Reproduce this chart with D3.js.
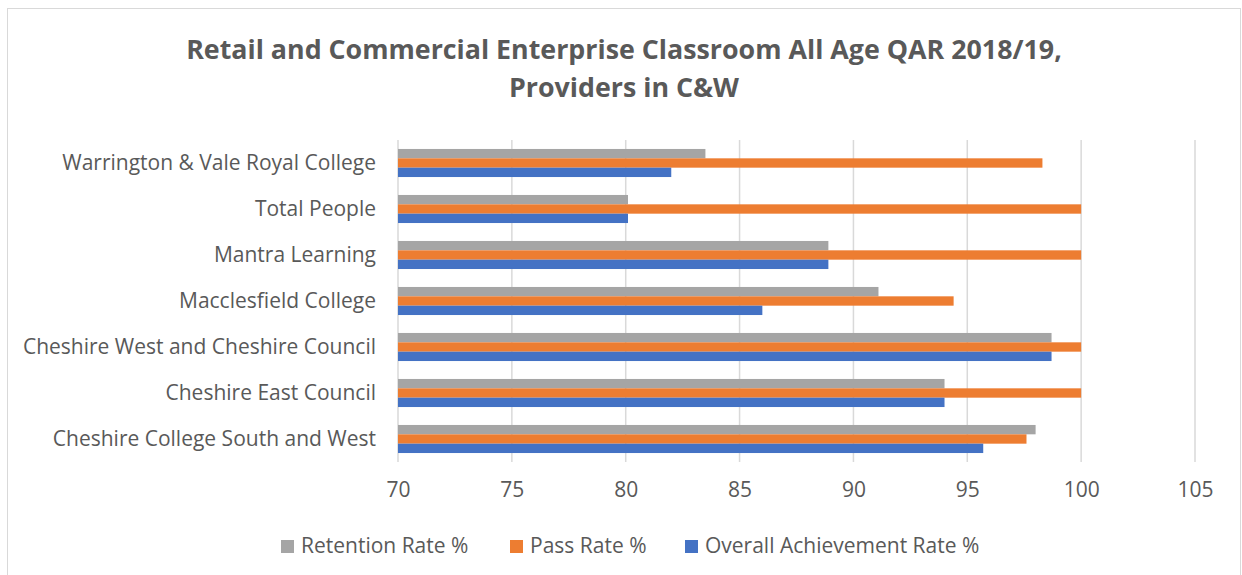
<!DOCTYPE html>
<html>
<head>
    <meta charset="UTF-8">
    <title>Retail and Commercial Enterprise Classroom QAR</title>
    <style>
        body { margin: 0; background: #fff; }
        text { font-family: "Open Sans", sans-serif; fill: #595959; }
        .grid line { stroke: #d9d9d9; stroke-width: 1.5; }
    </style>
</head>
<body>
<script src="https://cdn.jsdelivr.net/npm/d3@7"></script>
<script>
    // providers, bottom to top as in the workbook
    var providers = ["Cheshire College South and West", "Cheshire East Council",
        "Cheshire West and Cheshire Council", "Macclesfield College", "Mantra Learning",
        "Total People", "Warrington & Vale Royal College"];
    var retention = [98.0, 94.0, 98.7, 91.1, 88.9, 80.1, 83.5];
    var pass = [97.6, 100, 100, 94.4, 100, 100, 98.3];
    var overall = [95.7, 94.0, 98.7, 86.0, 88.9, 80.1, 82.0];
    var xTicks = [70, 75, 80, 85, 90, 95, 100, 105];
    var seriesNames = ["Retention Rate %", "Pass Rate %", "Overall Achievement Rate %"];
    var seriesColors = ["#a5a5a5", "#ed7d31", "#4472c4"];

    var margin = {top: 140, right: 47, bottom: 113, left: 398}
        , width = 1242 - margin.left - margin.right
        , height = 575 - margin.top - margin.bottom;

    var svg = d3.select("body").append("svg")
        .attr("width", 1242)
        .attr("height", 575);

    // chart border
    svg.append("rect")
        .attr("x", 7.5).attr("y", 8.5)
        .attr("width", 1233).attr("height", 580)
        .attr("fill", "none")
        .attr("stroke", "#d9d9d9");

    // title
    var title = svg.append("text")
        .attr("text-anchor", "middle")
        .style("font-size", "26.8px")
        .style("font-weight", "bold");
    title.append("tspan").attr("x", 624).attr("y", 59)
        .text("Retail and Commercial Enterprise Classroom All Age QAR 2018/19,");
    title.append("tspan").attr("x", 624).attr("y", 97)
        .text("Providers in C&W");

    var g = svg.append("g")
        .attr("transform", "translate(" + margin.left + "," + margin.top + ")");

    var xScale = d3.scaleLinear()
        .domain([70, 105])
        .range([0, width]);

    var yScale = d3.scaleBand()
        .domain(providers.slice().reverse())
        .range([0, height])
        .paddingInner(0.39)
        .paddingOuter(0.195);

    var inner = d3.scaleBand()
        .domain([0, 1, 2])
        .range([0, yScale.bandwidth()]);

    // vertical gridlines
    g.append("g")
        .attr("class", "grid")
        .selectAll("line")
        .data(xTicks)
        .enter().append("line")
        .attr("x1", function (d) { return xScale(d); })
        .attr("x2", function (d) { return xScale(d); })
        .attr("y1", 0)
        .attr("y2", height);

    // bars
    var rows = providers.map(function (p, i) {
        return {name: p, vals: [retention[i], pass[i], overall[i]]};
    });

    var groups = g.selectAll(".row")
        .data(rows)
        .enter().append("g")
        .attr("class", "row")
        .attr("transform", function (d) { return "translate(0," + yScale(d.name) + ")"; });

    groups.selectAll("rect")
        .data(function (d) { return d.vals; })
        .enter().append("rect")
        .attr("x", xScale(70))
        .attr("y", function (d, i) { return inner(i); })
        .attr("width", function (d) { return xScale(d) - xScale(70); })
        .attr("height", inner.bandwidth())
        .attr("fill", function (d, i) { return seriesColors[i]; });

    // x axis labels
    var xAxis = g.append("g")
        .attr("transform", "translate(0," + height + ")")
        .call(d3.axisBottom(xScale).tickValues(xTicks).tickSize(0).tickPadding(20));
    xAxis.select(".domain").remove();
    xAxis.selectAll("text")
        .style("font-size", "21px")
        .attr("fill", "#595959");

    // y axis labels
    var yAxis = g.append("g")
        .call(d3.axisLeft(yScale).tickSize(0).tickPadding(22));
    yAxis.select(".domain").remove();
    yAxis.selectAll("text")
        .style("font-size", "21px")
        .attr("fill", "#595959");

    // legend
    var legendX = [281, 510, 685];
    var legend = svg.selectAll(".legend")
        .data(seriesNames)
        .enter().append("g")
        .attr("class", "legend")
        .attr("transform", function (d, i) { return "translate(" + legendX[i] + ",546)"; });
    legend.append("rect")
        .attr("x", 0).attr("y", -6)
        .attr("width", 13).attr("height", 13)
        .attr("fill", function (d, i) { return seriesColors[i]; });
    legend.append("text")
        .attr("x", 20).attr("y", 0)
        .attr("dy", "0.35em")
        .style("font-size", "21px")
        .text(function (d) { return d; });
</script>
</body>
</html>
